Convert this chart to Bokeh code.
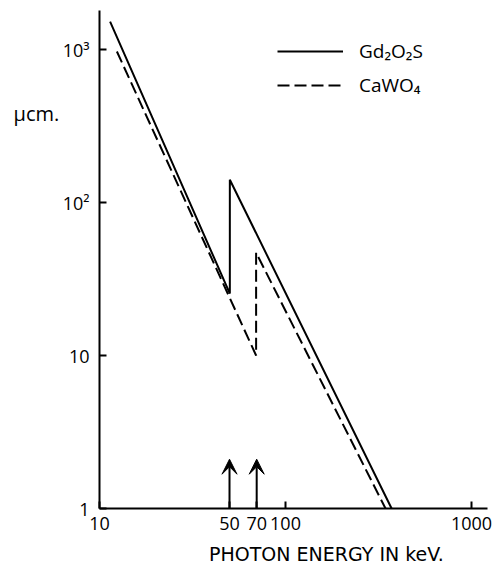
from bokeh.plotting import figure
from bokeh.models import (FixedTicker, Legend, LegendItem, Arrow, VeeHead,
                          ColumnDataSource, Label, Range1d, LogAxis, LogScale)
from bokeh.embed import file_html
from bokeh.resources import INLINE

# ---- data ----
gd_energy = [11.4, 50.2, 50.2, 372]      # keV, Gd2O2S (K-edge at 50.2 keV)
gd_mu = [1520, 25.4, 141, 1.0]           # cm^-1

ca_energy = [12.4, 69.5, 69.5, 345]      # keV, CaWO4 (K-edge at 69.5 keV)
ca_mu = [970, 10.0, 47, 1.0]

edge_arrows_x = [50, 70]
arrow_base = [1.0, 1.0]
arrow_tip = [2.1, 2.1]

x_ticks = [10, 50, 70, 100, 1000]
x_tick_labels = ["10", "50", "70", "100", "1000"]
y_ticks = [1, 10, 100, 1000]
y_tick_labels = ["1", "10", "10²", "10³"]

FONT = "Open Sans"

# frame covers the whole canvas; axes are pinned at x=10 and y=1
p = figure(width=496, height=569, x_axis_type=None, y_axis_type=None,
           x_axis_location=None, y_axis_location=None,
           output_backend="svg", toolbar_location=None,
           min_border_left=0, min_border_right=0, min_border_top=0,
           min_border_bottom=0)
p.x_scale = LogScale()
p.y_scale = LogScale()
p.x_range = Range1d(2.935, 1363)
p.y_range = Range1d(0.3994, 2091)
p.grid.visible = False
p.outline_line_color = None
p.background_fill_color = "white"
p.border_fill_color = "white"

r_gd = p.line(gd_energy, gd_mu, line_color="black", line_width=2)
r_ca = p.line(ca_energy, ca_mu, line_color="black", line_width=2,
              line_dash="12 5")

src = ColumnDataSource(dict(x=edge_arrows_x, y0=arrow_base, y1=arrow_tip))
p.add_layout(Arrow(end=VeeHead(size=15, fill_color="black", line_color="black"),
                   x_start="x", y_start="y0", x_end="x", y_end="y1",
                   line_width=2, line_color="black", source=src))

xaxis = LogAxis(fixed_location=1.0, bounds=(10, 1219),
                ticker=FixedTicker(ticks=x_ticks),
                major_label_overrides=dict(zip(x_ticks, x_tick_labels)),
                major_label_standoff=8)
yaxis = LogAxis(fixed_location=10.0, bounds=(1, 1798),
                ticker=FixedTicker(ticks=y_ticks),
                major_label_overrides=dict(zip(y_ticks, y_tick_labels)),
                major_label_standoff=10)
for ax in (xaxis, yaxis):
    ax.axis_line_width = 2
    ax.axis_line_color = "black"
    ax.major_tick_in = 7
    ax.major_tick_out = 0
    ax.major_tick_line_width = 2
    ax.minor_tick_line_color = None
    ax.major_label_text_font = FONT
    ax.major_label_text_font_size = "18px"
    ax.major_label_text_color = "black"
p.add_layout(xaxis, "below")
p.add_layout(yaxis, "left")

legend = Legend(items=[LegendItem(label="Gd₂O₂S", renderers=[r_gd]),
                       LegendItem(label="CaWO₄", renderers=[r_ca])],
                location=(277, 471), glyph_width=66, glyph_height=20,
                spacing=8, label_standoff=16, padding=0, margin=0,
                border_line_color=None, background_fill_alpha=0,
                label_text_font=FONT, label_text_font_size="19px",
                label_text_color="black")
p.add_layout(legend)

p.add_layout(Label(x=3.45, y=380, text="μcm.", text_font=FONT,
                   text_font_size="20px", text_baseline="middle",
                   text_color="black"))
p.add_layout(Label(x=166, y=0.508, text="PHOTON ENERGY IN keV.",
                   text_font="DejaVu Sans", text_font_size="19px",
                   text_align="center", text_baseline="middle",
                   text_color="black"))

open("out.html", "w").write(file_html(p, INLINE))
